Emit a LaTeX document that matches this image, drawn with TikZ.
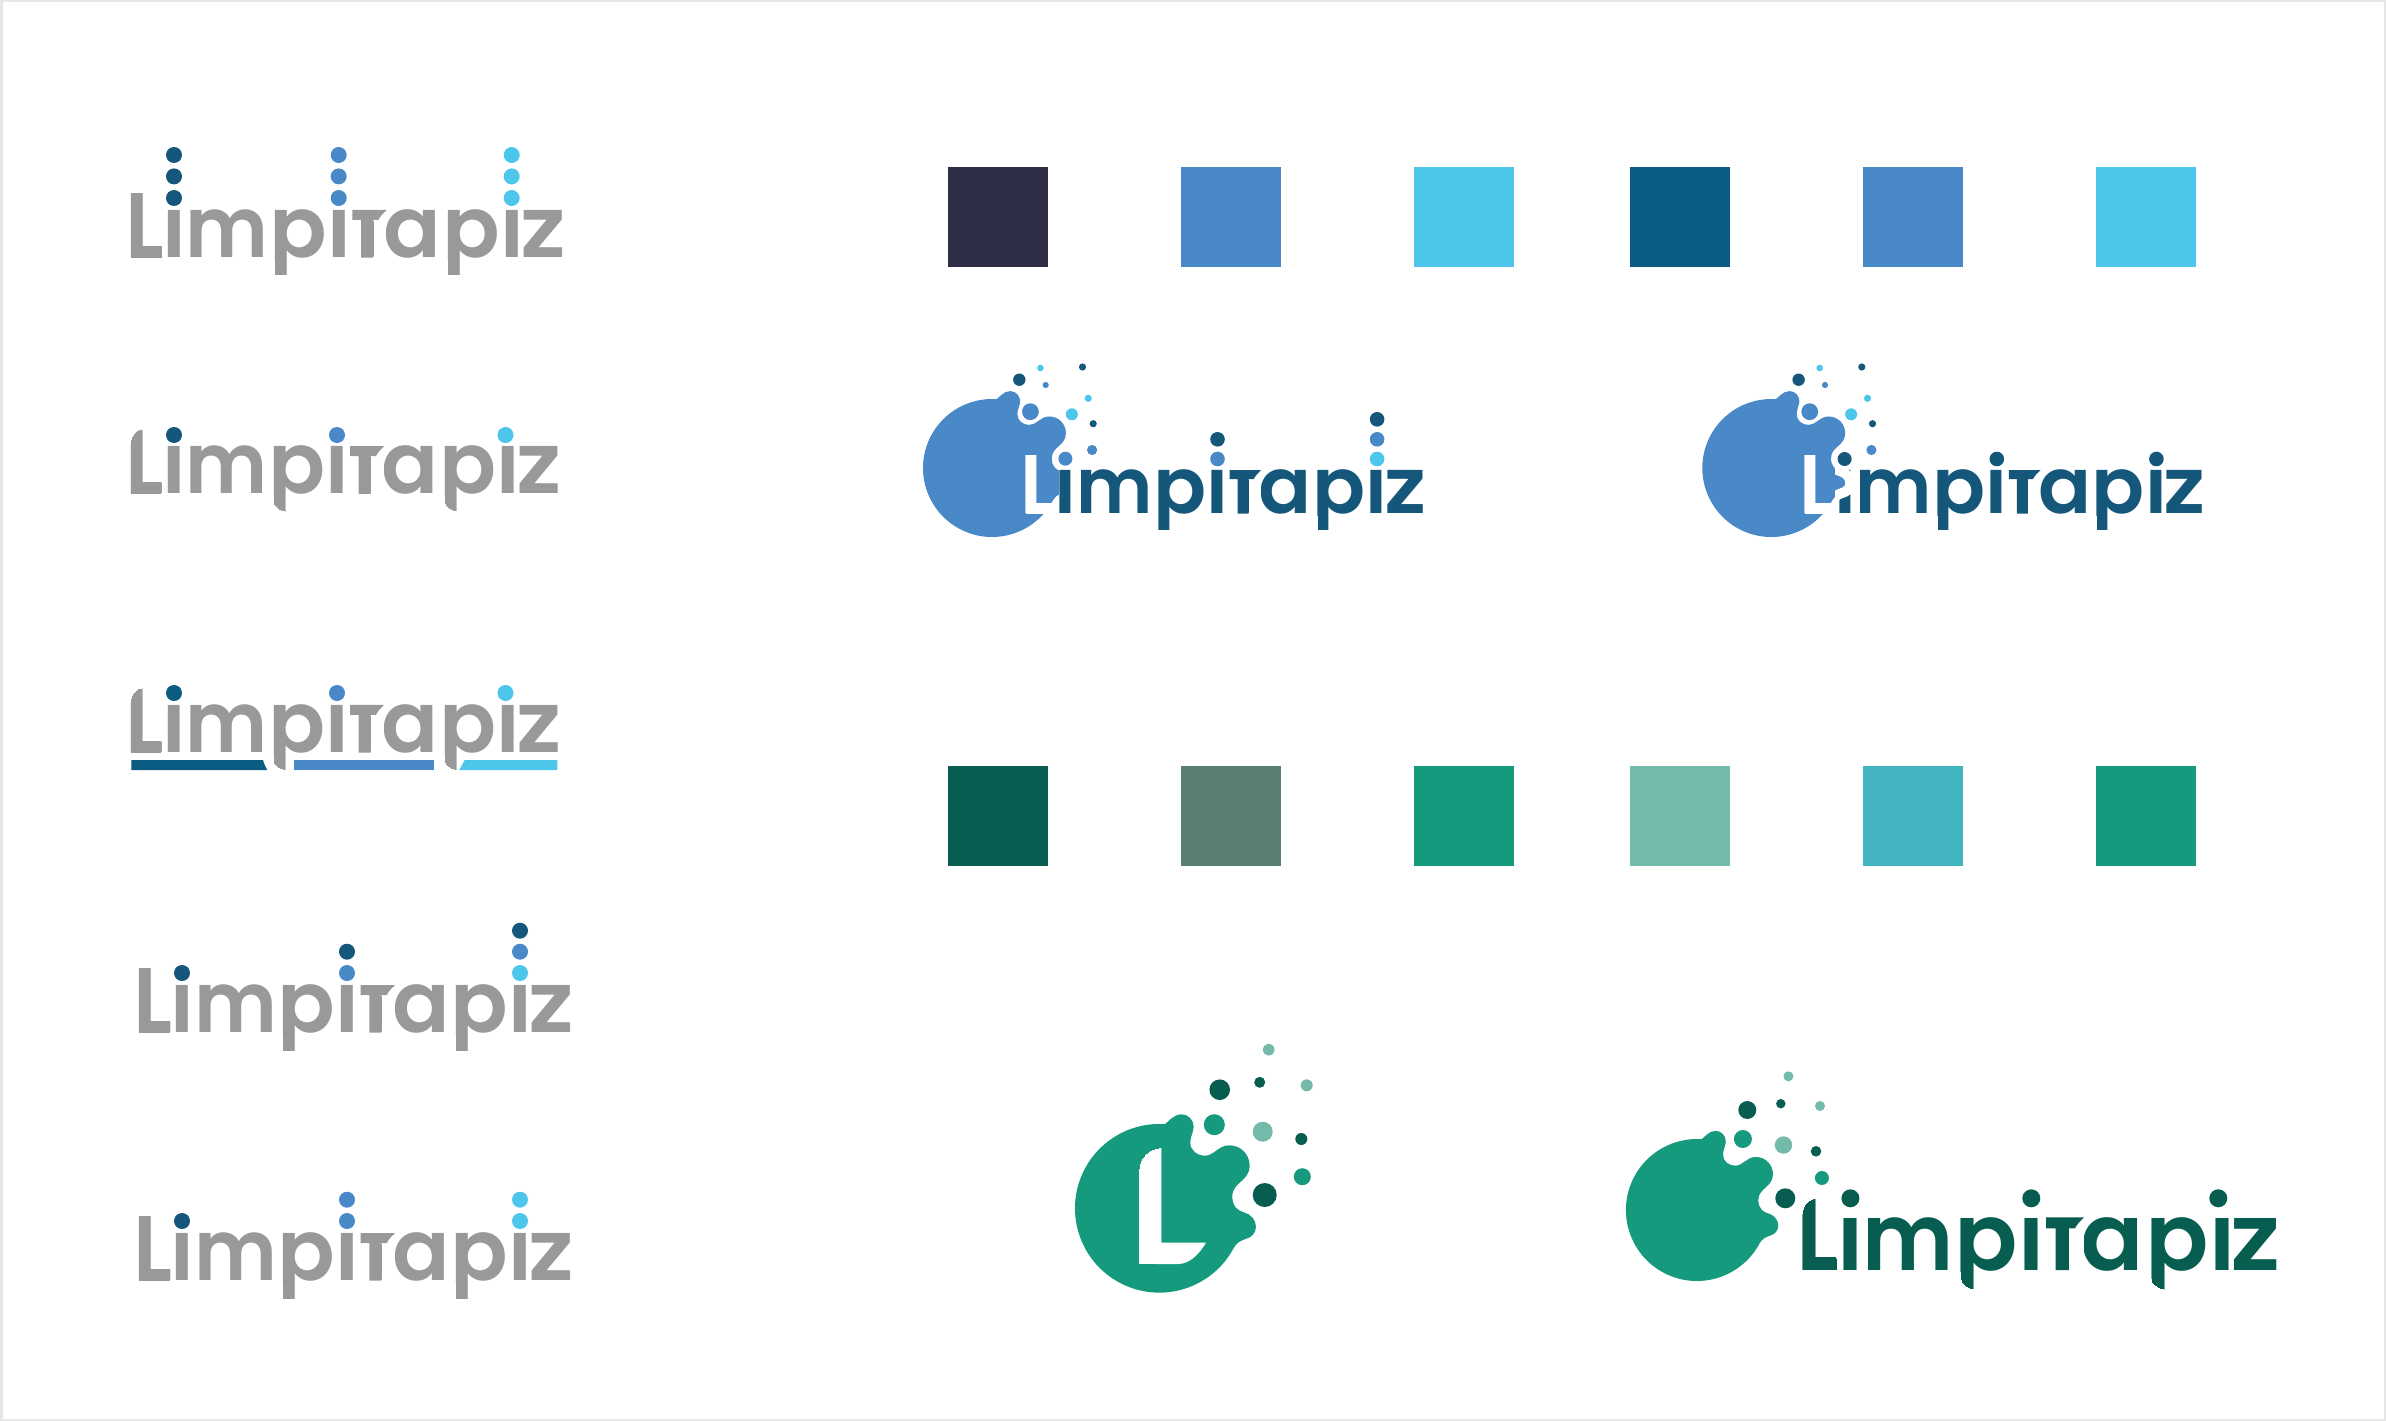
\documentclass[tikz,border=0pt]{standalone}
\usepackage{fontspec}
\usepackage{graphicx}
\newfontfamily\logofont{Poppins SemiBold}
\definecolor{frame}{HTML}{E6E6E6}
\definecolor{lgray}{HTML}{98999B}
\definecolor{dk}{HTML}{15577A}
\definecolor{dkb}{HTML}{0A5C82}
\definecolor{bl}{HTML}{4A89C8}
\definecolor{cy}{HTML}{4DC6EC}
\definecolor{navy}{HTML}{2D2E45}
\definecolor{gdk}{HTML}{075E50}
\definecolor{ggr}{HTML}{598073}
\definecolor{gmd}{HTML}{159A7D}
\definecolor{glt}{HTML}{73BAAA}
\definecolor{gcy}{HTML}{43B5C0}
% one letter of the word at a given distance from the word's start
\newcommand\lt[2]{\rlap{\kern#1pt\relax#2}}
\newcommand\logoword[2]{\logofont\fontsize{85}{85}\selectfont
  \textcolor{#1}{\lt{-6.2}{\scalebox{1}[1.087]{L}}}%
  \textcolor{#2}{\lt{31}{i}\lt{54.2}{\scalebox{.93}[1]{m}}\lt{137.9}{p}\lt{196}{i}%
  \lt{224}{t}\lt{252.4}{a}\lt{311}{p}\lt{369}{i}\lt{388.6}{\scalebox{1.115}[1]{z}}}}
% the parts of the word that stay visible: L, i-m-p-i, stem of the t, a-p-i-z
\def\clipStem{(230.2,-37)--(242,-37)--(242,0)--(230.2,0)--cycle}
\def\clipSq{(-3,-64.6)--(30.8,-64.6)--(30.8,1.5)--(-3,1.5)--cycle
  (34,-49.5)--(216,-49.5)--(216,1.5)--(158,1.5)--(158,17.3)--(143.7,17.3)--(143.7,1.5)--(34,1.5)--cycle
  \clipStem
  (255.2,-49.5)--(434,-49.5)--(434,1.5)--(331,1.5)--(331,17.3)--(316.7,17.3)--(316.7,1.5)--(255.2,1.5)--cycle}
\def\clipRd{(-3,-51)--(0,-51) .. controls (0,-58.5) and (5.5,-64.6) .. (12.6,-64.6)--(30.8,-64.6)--(30.8,1.5)--(-3,1.5)--cycle
  (34,-49.5)--(216,-49.5)--(216,1.5)--(158,1.5)--(158,17.3)--(156,17.3) .. controls (149,16.5) and (143.7,12) .. (143.7,7.3)--(143.7,1.5)--(34,1.5)--cycle
  \clipStem
  (255.2,-49.5)--(434,-49.5)--(434,1.5)--(331,1.5)--(331,17.3)--(329,17.3) .. controls (322,16.5) and (316.7,12) .. (316.7,7.3)--(316.7,1.5)--(255.2,1.5)--cycle}
% name, x, baseline, xscale, yscale, colour of L, colour of the rest, 0 square / 1 rounded
\newcommand\logotype[8]{%
  \begin{scope}[shift={(#2,#3)},xscale=#4,yscale=#5]
    \begin{scope}
      \ifnum#8=1 \path[clip] \clipRd;\else \path[clip] \clipSq;\fi
      \node[anchor=base west,inner sep=0pt,outer sep=0pt,transform shape] (#1) at (0,0) {\logoword{#6}{#7}};
    \end{scope}
    \fill[#6] (0,-12) rectangle (30.7,0);
    \fill[#7] (221.3,-47.7)--(255.7,-47.7) .. controls (252,-44) and (249,-41) .. (247.5,-37.7)--(242,-37.7)--(242,0)--(230,0)--(230,-37.7)--(221.3,-37.7)--cycle;
  \end{scope}}
\def\blobpath{(374.8,312.6) .. controls (385,306) and (400,283) .. (425,283)
  .. controls (445,283) and (461,300) .. (461,320)
  .. controls (461,335) and (451,350) .. (451,368)
  .. controls (451,392) and (472,407) .. (495,407)
  .. controls (522,407) and (535,376) .. (568,376)
  .. controls (602,376) and (629,403) .. (629,437)
  .. controls (629,485) and (577,485) .. (577,530)
  .. controls (577,560) and (595,573) .. (612,577)
  .. controls (632,582) and (648,600) .. (648,620)
  .. controls (648,640) and (635,652) .. (617,657)
  .. controls (600,662) and (590,670) .. (582,682.6)
  arc[start angle=-27.7,end angle=-273.8,radius=253pt] -- cycle}
% centre x, centre y, scale, colour
\newcommand\blob[4]{\begin{scope}[shift={(#1,#2)},scale=#3]\begin{scope}[shift={(-358,-565)}]\fill[#4] \blobpath;\end{scope}\end{scope}}
\newcommand\dotc[4]{\fill[#4] (#1,#2) circle[radius=#3pt];}
\tikzset{swatch/.style={fill=#1}}
\newcommand\sq[3]{\fill[swatch=#3] (#1,#2) rectangle ++(100,100);}
\newcommand\bubblesBlue[1]{\begin{scope}[shift={(#1,0)}]
  \dotc{1019.3}{379.7}{6.2}{dk}\dotc{1040.4}{368}{3.3}{cy}\dotc{1082.5}{367}{3.6}{dk}
  \dotc{1045.7}{385}{3.1}{bl}\dotc{1088.2}{398.3}{3.6}{cy}\dotc{1030.4}{411.7}{8.4}{bl}
  \dotc{1071.8}{414.3}{6}{cy}\dotc{1093.2}{423.7}{3.6}{dk}\dotc{1092.1}{450}{5.1}{bl}
\end{scope}}
\begin{document}
\begin{tikzpicture}[x=1pt,y=-1pt]
\useasboundingbox (0,0) rectangle (2386,1421);
\fill[white] (0,0) rectangle (2386,1421);
\draw[frame,line width=2.5pt] (1.25,1.25) rectangle (2384.75,1419.75);
% swatches
\sq{948}{166.5}{navy}\sq{1181}{166.5}{bl}\sq{1414}{166.5}{cy}\sq{1630}{166.5}{dkb}\sq{1863}{166.5}{bl}\sq{2096}{166.5}{cy}
\sq{948}{765.7}{gdk}\sq{1181}{765.7}{ggr}\sq{1414}{765.7}{gmd}\sq{1630}{765.7}{glt}\sq{1863}{765.7}{gcy}\sq{2096}{765.7}{gmd}
% left column
\logotype{la}{131}{257.5}{1}{1}{lgray}{lgray}{0}
\dotc{174}{155}{8}{dk}\dotc{174}{176.4}{8}{dk}\dotc{174}{198}{8}{dk}
\dotc{338.7}{155}{8}{bl}\dotc{338.7}{176.4}{8}{bl}\dotc{338.7}{198}{8}{bl}
\dotc{511.7}{155}{8}{cy}\dotc{511.7}{176.4}{8}{cy}\dotc{511.7}{198}{8}{cy}
\logotype{lb}{131}{493.8}{.99}{1}{lgray}{lgray}{1}
\dotc{174}{435}{8}{dk}\dotc{337}{435}{8}{bl}\dotc{505.5}{435}{8}{cy}
\logotype{lc}{131}{752.5}{.99}{1}{lgray}{lgray}{1}
\dotc{174}{693}{8}{dkb}\dotc{337}{693}{8}{bl}\dotc{505.5}{693}{8}{cy}
\fill[dkb] (131.3,760)--(263,760) .. controls (264,764) and (266,768) .. (267.3,770)--(131.3,770)--cycle;
\fill[bl] (294.3,760) rectangle (433.7,770);
\fill[cy] (464.7,760)--(557.3,760)--(557.3,770)--(459.3,770) .. controls (461,767) and (463,763) .. (464.7,760)--cycle;
\logotype{ld}{139.3}{1032.7}{1}{1}{lgray}{lgray}{0}
\dotc{182}{973}{8}{dk}\dotc{347}{951.7}{8}{dk}\dotc{347}{973}{8}{bl}
\dotc{520}{930.7}{8}{dk}\dotc{520}{951.7}{8}{bl}\dotc{520}{973}{8}{cy}
\logotype{le}{139.3}{1280.7}{1}{1}{lgray}{lgray}{0}
\dotc{182}{1221}{8}{dk}\dotc{347}{1199.7}{8}{bl}\dotc{347}{1221}{8}{bl}
\dotc{520}{1199.7}{8}{cy}\dotc{520}{1221}{8}{cy}
% blue logo, left
\blob{992}{468}{.2727}{bl}
\fill[white] (1058.6,466) rectangle (1075,516);
\bubblesBlue{0}
\dotc{1065.4}{458.7}{7}{bl}
\logotype{ma}{1025.7}{513.7}{.921}{.916}{white}{dk}{0}
\dotc{1217.5}{439.3}{7.3}{dk}\dotc{1217.5}{459}{7.3}{bl}
\dotc{1377.1}{419.3}{7.3}{dk}\dotc{1377.1}{439.3}{7.3}{bl}\dotc{1377.1}{459}{7.3}{cy}
% blue logo, right
\blob{1771.3}{468}{.2727}{bl}
\bubblesBlue{779.3}
\dotc{1844.6}{459}{7}{dk}
\logotype{mb}{1805}{513.7}{.921}{.916}{white}{dk}{0}
\begin{scope}
\clip (1835,467) rectangle (1856,500);
\begin{scope}[shift={(1771.3,468)},scale=.2727]\begin{scope}[shift={(-358,-565)}]
\filldraw[bl,draw=white,line width=10pt] \blobpath;
\end{scope}\end{scope}
\end{scope}
\dotc{1996.8}{459}{7.3}{dk}\dotc{2156.4}{459}{7.3}{dk}
% green mark
\blob{1159.3}{1208.3}{.3333}{gmd}
\begin{scope}
\clip (1161.3,1147.7) .. controls (1148,1149) and (1139,1158) .. (1139,1172) -- (1139,1264) -- (1161.3,1264) -- cycle;
\node[anchor=base west,inner sep=0pt,outer sep=0pt,text=white,font={\logofont\fontsize{85}{85}\selectfont},xscale=2.05,yscale=1.97] (gl) at (1125,1264.4) {L};
\end{scope}
\fill[white] (1155,1242.7) -- (1206,1242.7) .. controls (1200,1253) and (1190,1264) .. (1178.3,1264) -- (1155,1264) -- cycle;
\dotc{1268.7}{1049.7}{5.8}{glt}\dotc{1259.7}{1082.3}{5.5}{gdk}\dotc{1306.7}{1085.3}{6}{glt}
\dotc{1219.7}{1089.7}{10.3}{gdk}\dotc{1214.3}{1124.7}{10.5}{gmd}\dotc{1262.7}{1131.7}{10}{glt}
\dotc{1301.3}{1139}{6}{gdk}\dotc{1302.3}{1176.7}{8.5}{gmd}\dotc{1264.7}{1195}{12}{gdk}
% green logo
\blob{1696.9}{1210}{.2806}{gmd}
\dotc{1788.4}{1076.3}{5}{glt}\dotc{1780.8}{1103.7}{4.7}{gdk}\dotc{1820}{1106}{5}{glt}
\dotc{1747.3}{1110}{9}{gdk}\dotc{1742.9}{1139}{9}{gmd}\dotc{1783.5}{1145}{8.7}{glt}
\dotc{1816}{1151.3}{5.3}{gdk}\dotc{1821.9}{1178}{7}{gmd}\dotc{1785.3}{1198.3}{10}{gdk}
\logotype{mc}{1802.7}{1270}{1.1}{1.105}{gdk}{gdk}{1}
\dotc{1850.4}{1198.3}{9}{gdk}\dotc{2031.3}{1198.3}{9}{gdk}\dotc{2218.3}{1198.3}{9}{gdk}
\end{tikzpicture}
\end{document}
